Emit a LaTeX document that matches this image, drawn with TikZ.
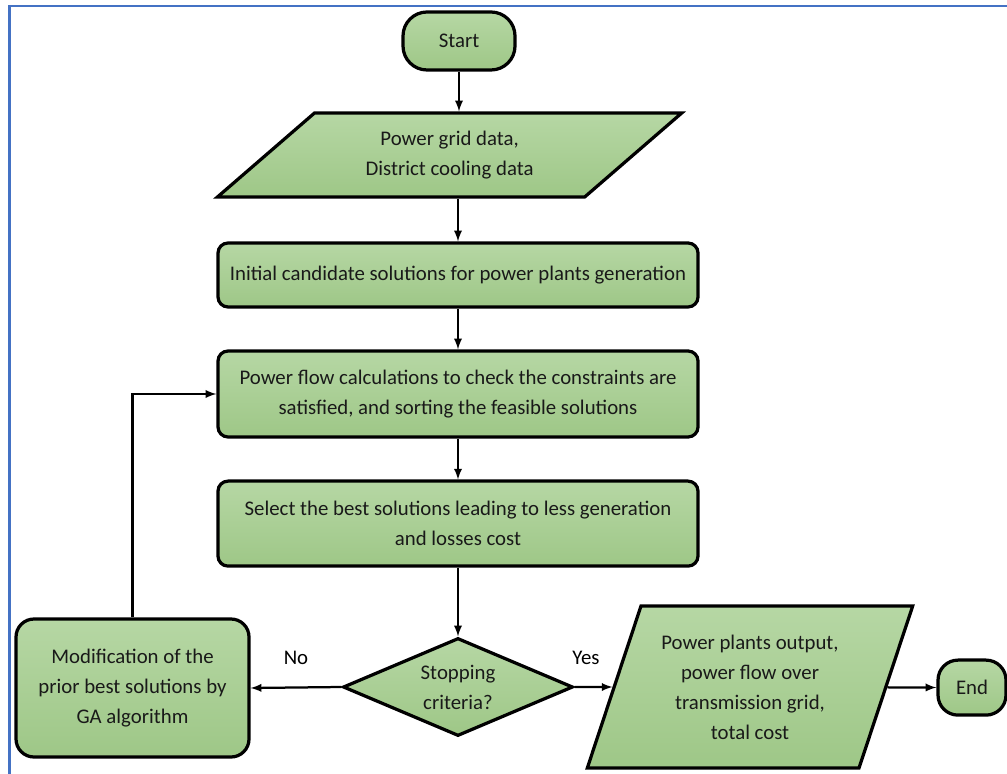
\documentclass[tikz,border=0pt]{standalone}
\usepackage{fontspec}
\setmainfont{Carlito}
\usetikzlibrary{shapes.geometric}
\definecolor{boxtop}{HTML}{B6D7A4}
\definecolor{boxbot}{HTML}{9EC787}
\definecolor{frameblue}{HTML}{4472C4}
\tikzset{
    flowbox/.style={draw, line width=2.3pt, top color=boxtop, bottom color=boxbot,
        align=center, text=black!90, font=\fontsize{14.8}{21.3}\selectfont},
    procbox/.style={flowbox, rectangle, rounded corners=0.25cm, minimum width=12cm},
    termbox/.style={flowbox, rectangle, rounded corners=0.6cm},
    iobox/.style={flowbox, trapezium, trapezium stretches=true},
    decbox/.style={flowbox, diamond, aspect=2.35, inner sep=0pt},
    link/.style={->, line width=1.6pt},
}
\begin{document}
\begin{tikzpicture}[>=latex]
    \useasboundingbox (0,0) rectangle (25.175,-19.35);
    % frame
    \draw[frameblue, line width=2pt] (0.24,-19.35) -- (0.24,-0.15) -- (25.175,-0.15);
    % main column
    \node[termbox, minimum width=2.8cm, minimum height=1.45cm] (start) at (11.475,-1.025) {Start};
    \node[iobox, trapezium left angle=42, trapezium right angle=138,
        minimum width=11.625cm, minimum height=2.1cm] (data) at (11.24,-3.875)
        {Power grid data,\\District cooling data};
    \node[procbox, minimum height=1.6cm] (init) at (11.45,-6.875)
        {Initial candidate solutions for power plants generation};
    \node[procbox, minimum height=2.15cm] (flow) at (11.45,-9.85)
        {Power flow calculations to check the constraints are\\satisfied, and sorting the feasible solutions};
    \node[procbox, minimum height=2.125cm] (select) at (11.45,-13.09)
        {Select the best solutions leading to less generation\\and losses cost};
    \node[decbox, minimum width=5.75cm, minimum height=2.45cm] (decide) at (11.45,-17.175)
        {Stopping\\criteria?};
    % bottom row
    \node[termbox, rounded corners=0.45cm, minimum width=5.825cm, minimum height=3.45cm] (modify)
        at (3.3125,-17.2) {Modification of the\\prior best solutions by\\GA algorithm};
    \node[iobox, trapezium left angle=68, trapezium right angle=112,
        minimum width=8.15cm, minimum height=4.05cm] (output) at (18.75,-17.175)
        {Power plants output,\\power flow over\\transmission grid,\\total cost};
    \node[termbox, rounded corners=0.5cm, minimum width=1.7cm, minimum height=1.375cm] (finish)
        at (24.3,-17.19) {End};
    % connectors
    \draw[link] (start.south) -- (start.south |- data.north);
    \draw[link] (init.north |- data.south) -- (init.north);
    \draw[link] (init) -- (flow);
    \draw[link] (flow) -- (select);
    \draw[link] (select) -- (decide);
    \draw[link] (decide.west) -- node[above=0.42cm, font=\fontsize{14.8}{21.3}\selectfont] (nolab) {No} (modify.east);
    \draw[link] (decide.east) -- node[above=0.42cm, pos=0.3, font=\fontsize{14.8}{21.3}\selectfont] (yeslab) {Yes} (output);
    \draw[link] (output) -- (finish);
    \draw[link] (modify.north) |- (flow.west);
\end{tikzpicture}
\end{document}
